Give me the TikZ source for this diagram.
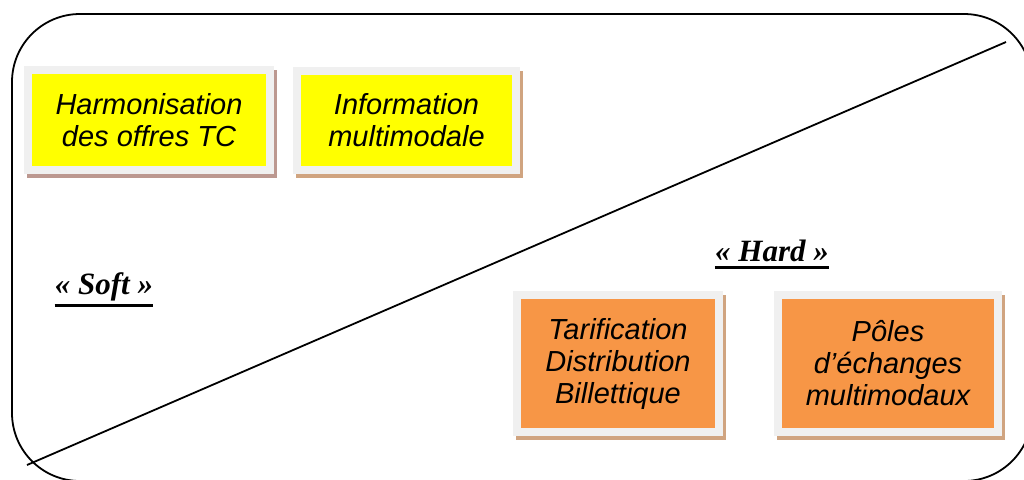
\documentclass[tikz,border=0pt]{standalone}
\usepackage{fontspec}
\setmainfont{Liberation Serif}
\newfontfamily\arialfont{Liberation Sans}
\usetikzlibrary{positioning,backgrounds}
\definecolor{boxframe}{RGB}{240,240,240}
\definecolor{softyellow}{RGB}{255,255,0}
\definecolor{hardorange}{RGB}{247,150,70}
\definecolor{shadowrose}{RGB}{188,152,144}
\definecolor{shadowtan}{RGB}{208,164,128}
\tikzstyle{box}=[draw=boxframe, line width=4pt, align=center, inner sep=0pt, font=\arialfont\itshape\fontsize{14.5}{16}\selectfont]
\tikzstyle{softbox}=[box, fill=softyellow]
\tikzstyle{hardbox}=[box, fill=hardorange]
\tikzstyle{side}=[font=\bfseries\itshape\fontsize{15.5}{18}\selectfont, inner sep=0pt]

\begin{document}
\begin{tikzpicture}[x=0.5pt,y=-0.5pt,line width=0.9pt]
\useasboundingbox (0,0) rectangle (1024,479);
\draw[rounded corners=34pt] (12,14) rectangle (1032,481);

\coordinate (lowleft) at (27,465);
\coordinate (upright) at (1006,42);
\draw (lowleft) -- (upright);

  \node[softbox, minimum width=121pt, minimum height=50pt] at (149,120) (harm) {Harmonisation\\des offres TC};
  \node[softbox, minimum width=109.5pt, minimum height=49.5pt, right of = harm, node distance = 128.75pt] (info) {Information\\multimodale};

  \node[hardbox, minimum width=101pt, minimum height=68.5pt] at (618,363.5) (tarif) {Tarification\\Distribution\\Billettique};
  \node[hardbox, minimum width=110pt, minimum height=68.5pt, right of = tarif, node distance = 135pt] (poles) {Pôles\\d’échanges\\multimodaux};

% shadows
\begin{pgfonlayer}{background}
\fill[shadowrose] ([shift={(3,4)}]harm.south west) rectangle ([shift={(3,4)}]harm.north east);
\fill[shadowtan] ([shift={(3,4)}]info.south west) rectangle ([shift={(3,4)}]info.north east);
\fill[shadowtan] ([shift={(3,4)}]tarif.south west) rectangle ([shift={(3,4)}]tarif.north east);
\fill[shadowtan] ([shift={(3,4)}]poles.south west) rectangle ([shift={(3,4)}]poles.north east);
\end{pgfonlayer}

\node[side] at (104,287) (soft) {«~Soft~»};
\draw[line width=1.6pt] ([yshift=-2pt]soft.south west) -- ([yshift=-2pt]soft.south east);

\node[side] at (772,251) (hard) {«~Hard~»};
\draw[line width=1.6pt] ([yshift=-2.5pt]hard.south west) -- ([yshift=-2.5pt]hard.south east);
\end{tikzpicture}
\end{document}
